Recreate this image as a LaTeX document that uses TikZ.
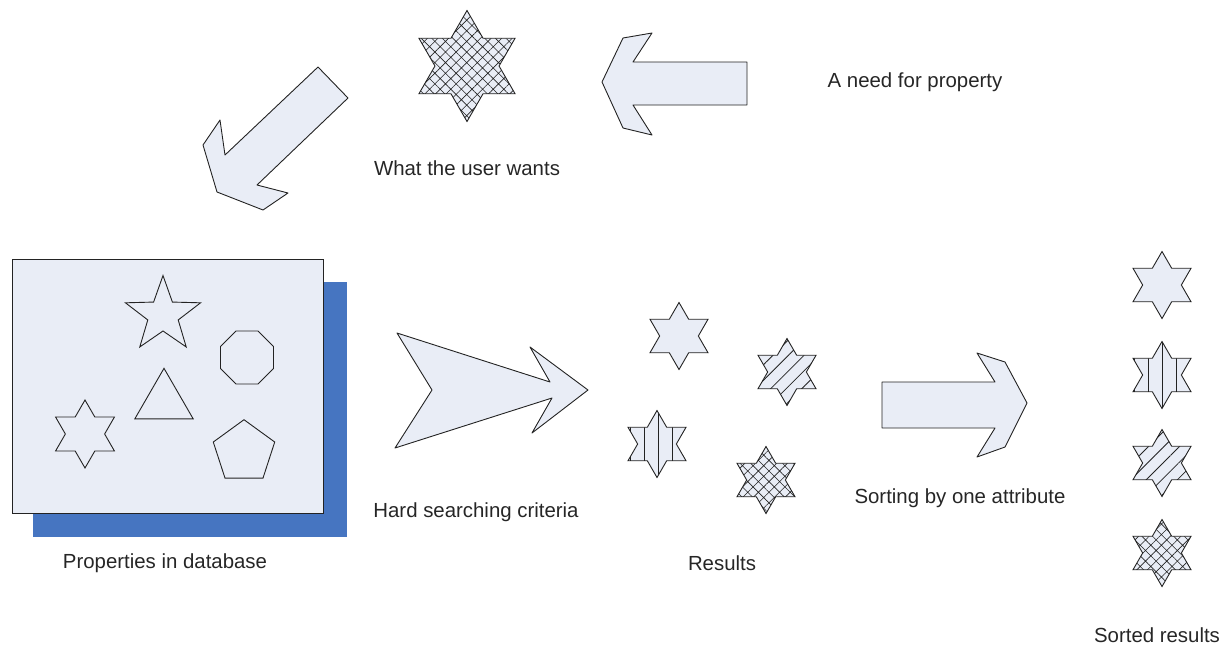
\documentclass[tikz,border=0pt]{standalone}
\usepackage{fontspec}
\setmainfont{Liberation Sans}
\usetikzlibrary{shapes.geometric,patterns.meta}
\definecolor{boxfill}{RGB}{233,237,246}
\definecolor{shadowblue}{RGB}{70,117,193}
\definecolor{edgegray}{RGB}{35,35,35}
\tikzset{
  hexstar/.style={star, star points=6, star point ratio=1.732, draw=edgegray, line width=0.9pt,
    inner sep=0pt, minimum size=#1, preaction={fill=boxfill}},
  hexstar/.default=67,
  plainfill/.style={},
  crossfill/.style={pattern={Hatch[angle=45,distance=7.5pt,line width=0.6pt]}, pattern color=edgegray},
  stripefill/.style={pattern={Lines[angle=45,distance=11pt,line width=0.8pt]}, pattern color=edgegray},
  barfill/.style={pattern={Lines[angle=90,distance=14pt,line width=0.8pt]}, pattern color=edgegray},
  outline/.style={draw=edgegray, line width=0.9pt, inner sep=0pt},
  bigarrow/.style={draw=edgegray, line width=0.9pt, fill=boxfill, line join=round},
  caption/.style={font=\fontsize{20.4}{24}\selectfont, text=black!85, inner sep=0pt}
}
\begin{document}
\begin{tikzpicture}[x=1pt, y=-1pt]
  \useasboundingbox (0,0) rectangle (1230,646);

  % Top row: what the user wants
  \node[hexstar=111, crossfill] (wish) at (467,66) {};
  \node[caption] (wishlabel) at (467,168) {What the user wants};
  \node[caption] (needlabel) at (915,82) {A need for property};
  \draw[bigarrow] (602,82) -- (623,38) -- (652,33) -- (633,62) -- (747,62) -- (747,105)
    -- (633,105) -- (652,135) -- (623,128) -- cycle;
  \draw[bigarrow] (318,67) -- (348,98) -- (257,185) -- (288,193) -- (263,210) -- (217,192)
    -- (203,145) -- (220,120) -- (225,155) -- cycle;

  % Database of properties
  \fill[shadowblue] (33,282) rectangle (347,537);
  \draw[outline, fill=boxfill] (12,259) rectangle (323,513);
  \node[star, star points=5, star point ratio=2.47, outline, minimum size=79] (fivestar) at (163,315) {};
  \node[regular polygon, regular polygon sides=8, outline, minimum size=57.4] (octagon) at (247,357.5) {};
  \node[regular polygon, regular polygon sides=3, outline, minimum size=67.4] (triangle) at (164,402) {};
  \node[hexstar=68] (sixstar) at (85,434) {};
  \node[regular polygon, regular polygon sides=5, outline, minimum size=64.6] (pentagon) at (244,452) {};
  \node[caption] (dblabel) at (165,563) {Properties in database};

  % Search
  \draw[bigarrow] (397,333) -- (550,382) -- (530,347) -- (588,390) -- (532,433) -- (552,398)
    -- (395,448) -- (432,390) -- cycle;
  \node[caption] (searchlabel) at (476,512) {Hard searching criteria};

  % Results
  \node[hexstar] (res1) at (679,336) {};
  \node[hexstar, stripefill] (res2) at (787,372) {};
  \node[hexstar, barfill] (res3) at (657,444) {};
  \node[hexstar, crossfill] (res4) at (766,480) {};
  \node[caption] (reslabel) at (722,563) {Results};

  % Sorting
  \draw[bigarrow] (882,382) -- (995,382) -- (977,353) -- (1005,362) -- (1027,403) -- (1005,447)
    -- (977,457) -- (995,428) -- (882,428) -- cycle;
  \node[caption] (sortlabel) at (960,498) {Sorting by one attribute};

  % Sorted column
  \foreach \y/\kind [count=\i] in {285/plainfill, 375/barfill, 463/stripefill, 553/crossfill}
    \node[hexstar, \kind] (sorted\i) at (1162,\y) {};
  \node[caption] (sortedlabel) at (1157,635) {Sorted results};
\end{tikzpicture}
\end{document}
